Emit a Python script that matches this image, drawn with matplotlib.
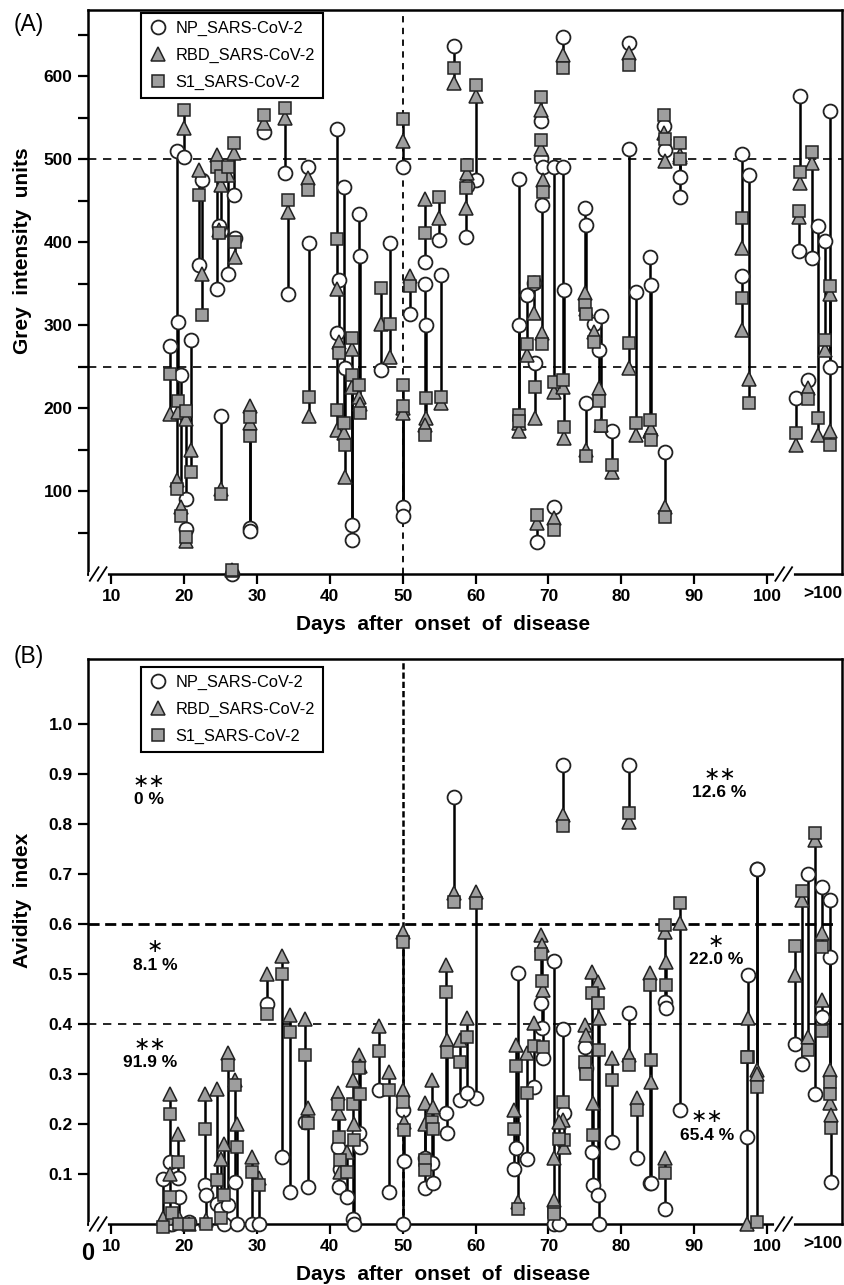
import matplotlib

matplotlib.use("Agg")
import matplotlib.pyplot as plt
from matplotlib.lines import Line2D
from matplotlib.transforms import blended_transform_factory

plt.rcParams["font.family"] = ["Liberation Sans", "DejaVu Sans"]

# ---- panel A: grey intensity per patient (day, NP, RBD, S1)
a_day = [18, 19, 19.2, 19.5, 20, 20.2, 20.3, 21, 22, 22.5, 25, 24.5, 25, 24.8, 26, 26.8, 27,
         26.5, 29, 29, 31, 33.8, 34.2, 37, 37.1, 41, 41.2, 41, 42, 42.1, 43, 43.1, 44, 44.1,
         47, 48.3, 50, 51, 50.1, 50, 53, 53.2, 53.1, 55, 55.2, 57, 60, 58.8, 58.7, 66, 65.9,
         67, 69, 69, 69.2, 69.1, 68, 68.1, 68.5, 70.8, 70.8, 72, 72.2, 72, 81, 75, 75.1, 75.2,
         76.2, 77, 77.2, 78.7, 81, 82, 84, 84.1, 85.8, 86, 88, 88, 86, 96.6, 96.6, 97.5,
         104.6, 104.4, 104, 106.2, 105.7, 107, 107.9, 108.6, 108.6]
a_np = [275, 510, 304, 240, 503, 90, 54, 282, 372, 475, 191, 344, 413, 419, 362, 457, 405,
        0, 55, 52, 533, 484, 337, 491, 399, 537, 355, 290, 466, 248, 59, 41, 434, 384,
        246, 399, 491, 314, 81, 70, 376, 300, 350, 403, 360, 637, 475, 468, 406, 476, 300,
        336, 546, 502, 491, 445, 351, 254, 39, 81, 491, 491, 343, 648, 640, 441, 421, 206,
        302, 270, 311, 172, 513, 340, 382, 348, 540, 511, 479, 455, 147, 506, 359, 481,
        576, 390, 212, 381, 234, 419, 401, 558, 250]
a_rbd = [193, 113, 195, 81, 538, 187, 40, 150, 487, 362, 103, 505, 469, 415, 481, 507, 382,
         5, 203, 182, 544, 550, 437, 477, 190, 344, 280, 174, 170, 117, 271, 225, 214, 205,
         302, 262, 522, 359, 200, 194, 452, 188, 180, 429, 206, 592, 576, 484, 441, 182, 173,
         264, 560, 512, 475, 291, 315, 188, 62, 67, 220, 226, 164, 626, 628, 339, 320, 150,
         292, 224, 180, 123, 248, 168, 172, 175, 532, 498, 503, 505, 81, 393, 294, 235,
         472, 430, 155, 496, 224, 168, 270, 172, 337]
a_s1 = [241, 103, 208, 70, 559, 197, 45, 123, 457, 312, 97, 491, 480, 411, 491, 520, 400,
        5, 189, 166, 554, 562, 451, 463, 213, 404, 266, 198, 182, 155, 284, 240, 228, 194,
        345, 302, 548, 347, 228, 203, 411, 212, 168, 455, 214, 610, 589, 493, 465, 192, 185,
        277, 575, 523, 461, 277, 352, 225, 71, 53, 232, 234, 177, 610, 614, 324, 314, 142,
        280, 208, 178, 131, 279, 182, 186, 162, 554, 525, 520, 500, 69, 429, 333, 206,
        485, 438, 170, 509, 211, 188, 282, 155, 347]

# ---- panel B: avidity index per patient (day, NP, RBD, S1)
b_day = [17.1, 18, 18.1, 18.3, 19.2, 19.3, 20.6, 22.8, 23, 24.5, 25.4, 25, 26, 27, 27.2,
         29.3, 30.3, 31.4, 33.4, 34.5, 36.6, 37, 41.1, 41.3, 41.4, 42.3, 43.2, 43.3, 44, 44.1,
         46.8, 48.1, 50, 50.1, 50.2, 53, 53.1, 54, 54.1, 56, 56.1, 57, 60, 57.9, 58.8,
         65.8, 65.6, 65.3, 67, 68, 69, 69.1, 69.3, 70.8, 70.7, 72, 72.1, 71.5, 72, 81,
         75, 75.1, 76, 76.1, 76.8, 77, 78.7, 81, 82.2, 84, 84.1, 86, 86.1, 86, 88,
         98.6, 98.7, 97.4, 97.3, 103.8, 104.8, 105.6, 106.6, 107.5, 107.6, 108.6, 108.7, 108.8]
b_np = [0.09, 0.124, 0.0, 0.0, 0.092, 0.054, 0.005, 0.078, 0.058, 0.04, 0.0, 0.03, 0.038,
        0.084, 0.0, 0.0, 0.0, 0.44, 0.134, 0.064, 0.204, 0.074, 0.154, 0.074, 0.11, 0.054,
        0.01, 0.0, 0.182, 0.154, 0.268, 0.064, 0.0, 0.228, 0.126, 0.132, 0.072, 0.122, 0.082,
        0.222, 0.182, 0.855, 0.252, 0.248, 0.262, 0.502, 0.152, 0.11, 0.13, 0.274, 0.442,
        0.392, 0.332, 0.526, 0.0, 0.39, 0.222, 0.0, 0.918, 0.918, 0.354, 0.312, 0.144, 0.078,
        0.058, 0.0, 0.164, 0.422, 0.132, 0.082, 0.082, 0.444, 0.432, 0.03, 0.228,
        0.71, 0.71, 0.498, 0.174, 0.36, 0.32, 0.70, 0.26, 0.674, 0.414, 0.648, 0.534, 0.084]
b_rbd = [0.012, 0.26, 0.10, 0.012, 0.18, 0.012, 0.0, 0.26, 0.008, 0.27, 0.16, 0.13, 0.342,
         0.288, 0.20, 0.134, 0.092, 0.50, 0.536, 0.418, 0.41, 0.232, 0.262, 0.222, 0.104,
         0.144, 0.288, 0.20, 0.338, 0.316, 0.396, 0.304, 0.584, 0.268, 0.204, 0.242, 0.20,
         0.288, 0.234, 0.518, 0.368, 0.662, 0.664, 0.368, 0.412, 0.044, 0.358, 0.228, 0.342,
         0.402, 0.578, 0.558, 0.468, 0.132, 0.048, 0.208, 0.154, 0.204, 0.818, 0.805, 0.398,
         0.378, 0.504, 0.242, 0.484, 0.412, 0.332, 0.338, 0.252, 0.502, 0.284, 0.584, 0.524,
         0.132, 0.602, 0.308, 0.30, 0.412, 0.0, 0.498, 0.648, 0.374, 0.768, 0.582, 0.448,
         0.308, 0.242, 0.218]
b_s1 = [-0.005, 0.22, 0.054, 0.022, 0.124, 0.0, 0.0, 0.19, 0.0, 0.088, 0.058, 0.012, 0.318,
        0.278, 0.154, 0.104, 0.078, 0.42, 0.50, 0.385, 0.338, 0.202, 0.24, 0.174, 0.128,
        0.104, 0.24, 0.168, 0.312, 0.26, 0.346, 0.268, 0.564, 0.244, 0.188, 0.128, 0.108,
        0.204, 0.19, 0.464, 0.344, 0.644, 0.642, 0.324, 0.374, 0.03, 0.316, 0.19, 0.262,
        0.356, 0.54, 0.486, 0.354, 0.024, 0.02, 0.244, 0.168, 0.17, 0.796, 0.822, 0.324,
        0.30, 0.462, 0.178, 0.442, 0.348, 0.288, 0.318, 0.228, 0.478, 0.328, 0.598, 0.478,
        0.102, 0.642, 0.005, 0.274, 0.334, 0.334, 0.556, 0.666, 0.348, 0.782, 0.554, 0.386,
        0.284, 0.26, 0.192]

b_notes = [(15.2, 0.885, "**", "0 %"), (16.0, 0.555, "*", "8.1 %"), (15.3, 0.36, "**", "91.9 %"),
           (93.5, 0.90, "**", "12.6 %"), (93.0, 0.565, "*", "22.0 %"), (91.8, 0.215, "**", "65.4 %")]

x_ticks = [10, 20, 30, 40, 50, 60, 70, 80, 90, 100]
GREY = "#9e9e9e"
EDGE = "#222222"


def draw_panel(ax, day, np_v, rbd_v, s1_v):
    for d, a, b, c in zip(day, np_v, rbd_v, s1_v):
        ax.plot([d, d], [min(a, b, c), max(a, b, c)], color="black", lw=1.8, zorder=2,
                solid_capstyle="butt", clip_on=False)
    ax.plot(day, np_v, ls="none", marker="o", ms=10, mfc="white", mec=EDGE, mew=1.3,
            zorder=3, clip_on=False)
    ax.plot(day, rbd_v, ls="none", marker="^", ms=10.5, mfc=GREY, mec=EDGE, mew=1.1,
            zorder=4, clip_on=False)
    ax.plot(day, s1_v, ls="none", marker="s", ms=9.3, mfc=GREY, mec=EDGE, mew=1.1,
            zorder=5, clip_on=False)


def style_axes(ax):
    ax.set_xlim(6.8, 110.3)
    ax.set_xticks(x_ticks)
    ax.set_xticklabels([str(t) for t in x_ticks])
    for s in ax.spines.values():
        s.set_linewidth(1.8)
    ax.tick_params(direction="out", length=7.5, width=1.6, labelsize=12.5, pad=3.5)
    for lab in ax.get_xticklabels() + ax.get_yticklabels():
        lab.set_fontweight("bold")
    tr = blended_transform_factory(ax.transData, ax.transAxes)
    ax.text(107.7, -0.021, ">100", transform=tr, ha="center", va="top", fontsize=12.5,
            fontweight="bold")
    # axis break marks
    for xb in (8.2, 102.3):
        ax.plot([xb - 1.0, xb + 1.0], [0.0, 0.0], color="white", lw=3.5, transform=tr,
                clip_on=False, zorder=6)
        for dx in (-0.55, 0.55):
            ax.plot([xb + dx - 0.6, xb + dx + 0.6], [-0.012, 0.012], color="black", lw=1.3,
                    transform=tr, clip_on=False, zorder=7)
    ax.text(0.471, -0.072, "Days  after  onset  of  disease", transform=ax.transAxes,
            ha="center", va="top", fontsize=15, fontweight="bold")


def add_legend(ax, top):
    handles = [
        Line2D([], [], ls="none", marker="o", ms=10, mfc="white", mec=EDGE, mew=1.3),
        Line2D([], [], ls="none", marker="^", ms=10.5, mfc=GREY, mec=EDGE, mew=1.1),
        Line2D([], [], ls="none", marker="s", ms=9.3, mfc=GREY, mec=EDGE, mew=1.1),
    ]
    leg = ax.legend(handles, ["NP_SARS-CoV-2", "RBD_SARS-CoV-2", "S1_SARS-CoV-2"],
                    loc="upper left", bbox_to_anchor=(0.07, top), borderaxespad=0,
                    fancybox=False, framealpha=1, edgecolor="black", fontsize=11.8,
                    handletextpad=0.5, labelspacing=0.72, borderpad=0.5, handlelength=1.1)
    leg.get_frame().set_linewidth(1.5)
    leg.set_zorder(10)


fig = plt.figure(figsize=(8.45, 12.85), dpi=100)
axA = fig.add_axes([88 / 845, 1 - 574 / 1285, 754 / 845, 564 / 1285])
axB = fig.add_axes([88 / 845, 1 - 1224 / 1285, 754 / 845, 565 / 1285])

# panel A
draw_panel(axA, a_day, a_np, a_rbd, a_s1)
axA.set_ylim(0, 680)
axA.set_yticks([100, 200, 300, 400, 500, 600])
axA.set_yticks([50, 150, 250, 350, 450, 550, 650], minor=True)
axA.tick_params(axis="y", which="minor", direction="out", length=7.5, width=1.6)
axA.axhline(500, color="black", lw=1.2, ls=(0, (5, 4)), zorder=1)
axA.axhline(250, color="black", lw=1.2, ls=(0, (5, 4)), zorder=1)
axA.axvline(50, color="black", lw=1.3, ls=(0, (3.5, 3)), zorder=1)
style_axes(axA)
axA.set_ylabel("Grey  intensity  units", fontsize=15, fontweight="bold")
axA.yaxis.set_label_coords(-0.074, 0.574)
add_legend(axA, 0.995)
fig.text(14 / 845, 1 - 24 / 1285, "(A)", fontsize=16.5, va="center", ha="left")

# panel B
draw_panel(axB, b_day, b_np, b_rbd, b_s1)
axB.set_ylim(0, 1.13)
axB.set_yticks([0.1, 0.2, 0.3, 0.4, 0.5, 0.6, 0.7, 0.8, 0.9, 1.0])
axB.set_yticklabels(["0.1", "0.2", "0.3", "0.4", "0.5", "0.6", "0.7", "0.8", "0.9", "1.0"])
axB.axhline(0.6, xmax=0.99, color="black", lw=2.0, ls=(0, (4, 2)), zorder=1)
axB.axhline(0.4, color="black", lw=1.2, ls=(0, (5, 4)), zorder=1)
axB.axvline(50, color="black", lw=1.8, ls=(0, (2.5, 1.2)), zorder=1)
style_axes(axB)
axB.set_ylabel("Avidity  index", fontsize=15, fontweight="bold")
axB.yaxis.set_label_coords(-0.074, 0.573)
add_legend(axB, 0.986)
axB.text(0.0, -0.052, "0", transform=axB.transAxes, ha="center", va="center", fontsize=17,
         fontweight="bold")
fig.text(14 / 845, 1 - 656 / 1285, "(B)", fontsize=16.5, va="center", ha="left")

for x, y, stars, pct in b_notes:
    axB.text(x, y, "\u2217" * len(stars), ha="center", va="center", fontsize=14,
             family="DejaVu Sans", zorder=8)
    axB.text(x, y - 0.037, pct, ha="center", va="center", fontsize=12.5,
             fontweight="bold", zorder=8)

fig.savefig("out.png", dpi=100)
